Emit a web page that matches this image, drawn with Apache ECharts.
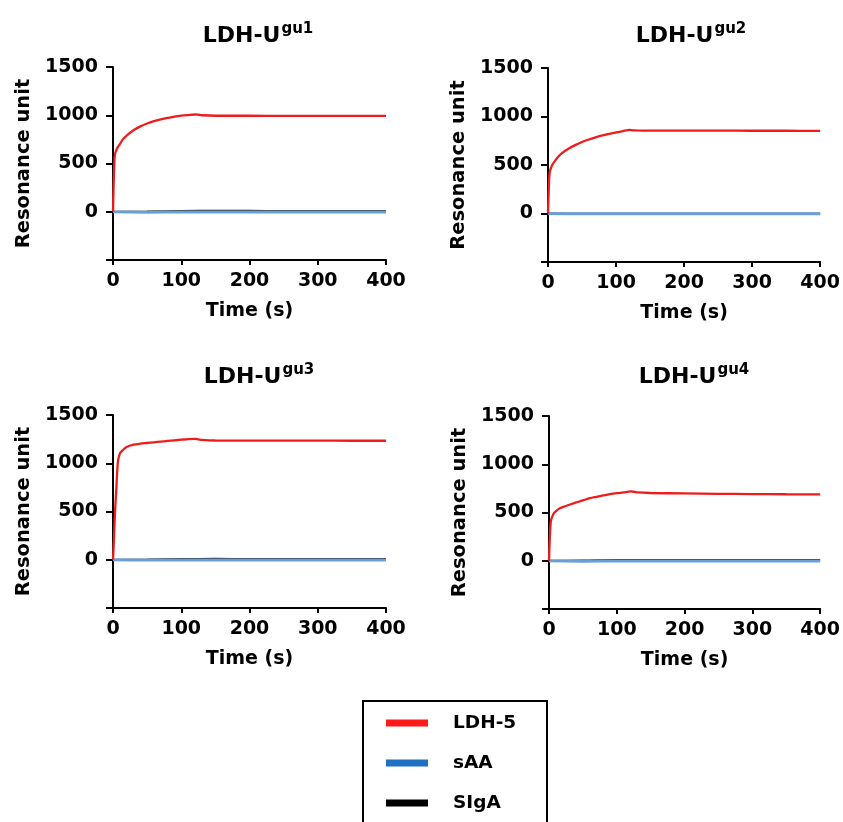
<!DOCTYPE html>
<html lang="en">
<head>
    <meta charset="UTF-8">
    <title>LDH-U binding</title>
    <script src="https://cdn.jsdelivr.net/npm/echarts@6/dist/echarts.min.js"></script>
    <style>
        html, body { margin: 0; padding: 0; background: #fff; }
        #main { width: 843px; height: 822px; }
    </style>
</head>
<body>
<div id="main"></div>
<script type="text/javascript">
    // time points (s) for the LDH-5 curves
    var tRed = [0, 1, 2, 3, 5, 7, 10, 15, 20, 30, 40, 50, 60, 70, 80, 90, 100, 110, 120, 125, 130, 150, 200, 250, 300, 350, 400];
    var red1 = [0, 300, 520, 600, 640, 670, 700, 755, 790, 845, 885, 915, 940, 958, 972, 985, 995, 1002, 1008, 1005, 1000, 995, 995, 994, 994, 993, 993];
    var red2 = [0, 220, 390, 440, 480, 510, 540, 585, 620, 668, 705, 737, 763, 785, 805, 822, 836, 849, 862, 858, 856, 855, 855, 854, 853, 853, 852];
    var red3 = [0, 150, 330, 500, 750, 1000, 1100, 1140, 1168, 1192, 1203, 1210, 1217, 1224, 1231, 1238, 1244, 1250, 1253, 1248, 1242, 1236, 1235, 1234, 1234, 1233, 1233];
    var red4 = [0, 200, 350, 420, 460, 490, 512, 540, 555, 580, 605, 625, 648, 663, 677, 690, 700, 708, 718, 715, 708, 702, 698, 694, 691, 689, 688];

    // time points (s) for the sAA / SIgA baselines
    var tBase = [0, 50, 100, 150, 200, 250, 300, 350, 400];
    var blue1 = [0, -4, -3, -2, -2, -3, -3, -2, -2];
    var blue2 = [0, -3, -3, -2, -2, -2, -3, -3, -3];
    var blue3 = [0, -3, -2, -2, -3, -3, -2, -2, -3];
    var blue4 = [0, -4, -3, -3, -2, -2, -3, -3, -3];
    var black1 = [0, 4, 10, 12, 12, 11, 11, 10, 10];
    var black2 = [0, -1, 0, 1, 0, 0, 0, 0, 0];
    var black3 = [0, 5, 10, 12, 11, 11, 10, 10, 10];
    var black4 = [0, 5, 10, 11, 11, 10, 10, 10, 10];

    var panelNames = ['gu1', 'gu2', 'gu3', 'gu4'];
    var seriesNames = ['LDH-5', 'sAA', 'SIgA'];
    var yTicks = [-500, 1500, 500];   // min, max, interval
    var xTicks = [0, 400, 100];

    var reds = [red1, red2, red3, red4];
    var blues = [blue1, blue2, blue3, blue4];
    var blacks = [black1, black2, black3, black4];

    var font = 'DejaVu Sans';
    var grids = [
        {left: 113, top: 67, width: 273, height: 193},
        {left: 548, top: 68, width: 274, height: 194},
        {left: 113, top: 415, width: 273, height: 193},
        {left: 549, top: 416, width: 273, height: 193}
    ];
    var titlePos = [[258, 22], [691, 22], [259, 363], [694, 363]];

    function pairs(t, v) {
        var out = [];
        for (var i = 0; i < t.length; i++) {
            out.push([t[i], v[i]]);
        }
        return out;
    }

    var myChart = echarts.init(document.getElementById('main'));

    var titles = [], xAxes = [], yAxes = [], series = [];
    for (var k = 0; k < 4; k++) {
        titles.push({
            text: '{a|LDH-U}{b|' + panelNames[k] + '}',
            left: titlePos[k][0],
            top: titlePos[k][1],
            textAlign: 'center',
            padding: 0,
            textStyle: {
                rich: {
                    a: {fontFamily: font, fontWeight: 'bold', fontSize: 22, color: '#000', lineHeight: 28},
                    b: {fontFamily: font, fontWeight: 'bold', fontSize: 15, color: '#000', verticalAlign: 'top', lineHeight: 26, padding: [0, 0, 0, 1]}
                }
            }
        });
        xAxes.push({
            gridIndex: k,
            type: 'value',
            min: xTicks[0],
            max: xTicks[1],
            interval: xTicks[2],
            name: 'Time (s)',
            nameLocation: 'middle',
            nameGap: 42,
            nameTextStyle: {fontFamily: font, fontWeight: 'bold', fontSize: 19, color: '#000'},
            axisLine: {onZero: false, lineStyle: {color: '#000', width: 2}},
            axisTick: {show: true, length: 5, lineStyle: {color: '#000', width: 2}},
            axisLabel: {margin: 12, fontFamily: font, fontWeight: 'bold', fontSize: 19, color: '#000'},
            splitLine: {show: false}
        });
        yAxes.push({
            gridIndex: k,
            type: 'value',
            min: yTicks[0],
            max: yTicks[1],
            interval: yTicks[2],
            name: 'Resonance unit',
            nameLocation: 'middle',
            nameGap: 79,
            nameTextStyle: {fontFamily: font, fontWeight: 'bold', fontSize: 19.5, color: '#000'},
            axisLine: {show: true, onZero: false, lineStyle: {color: '#000', width: 2}},
            axisTick: {show: true, length: 7, lineStyle: {color: '#000', width: 2}},
            axisLabel: {
                margin: 15, fontFamily: font, fontWeight: 'bold', fontSize: 19, color: '#000',
                formatter: function (v) { return v < 0 ? '' : v; }
            },
            splitLine: {show: false}
        });
        series.push({
            name: 'SIgA', type: 'line', xAxisIndex: k, yAxisIndex: k,
            data: pairs(tBase, blacks[k]), showSymbol: false, smooth: true,
            color: '#111', lineStyle: {width: 1.5, color: '#1a1a1a'}, z: 2
        });
        series.push({
            name: 'sAA', type: 'line', xAxisIndex: k, yAxisIndex: k,
            data: pairs(tBase, blues[k]), showSymbol: false, smooth: true,
            color: '#6a9fd6', lineStyle: {width: 3, color: '#6a9fd6'}, z: 3
        });
        series.push({
            name: 'LDH-5', type: 'line', xAxisIndex: k, yAxisIndex: k,
            data: pairs(tRed, reds[k]), showSymbol: false, smooth: 0.3,
            color: '#ee1c1c', lineStyle: {width: 2.3, color: '#ee1c1c'}, z: 4
        });
    }

    myChart.setOption({
        animation: false,
        title: titles,
        grid: grids,
        xAxis: xAxes,
        yAxis: yAxes,
        // legend frame runs off the bottom edge, as in the figure
        graphic: [{
            type: 'rect',
            shape: {x: 363, y: 701, width: 184, height: 160},
            style: {fill: 'none', stroke: '#000', lineWidth: 2}
        }],
        legend: {
            orient: 'vertical',
            left: 386,
            top: 713,
            padding: 0,
            itemGap: 20,
            itemWidth: 42,
            itemHeight: 7,
            icon: 'rect',
            selectedMode: false,
            textStyle: {fontFamily: font, fontWeight: 'bold', fontSize: 18.5, color: '#000', lineHeight: 20, padding: [0, 0, 0, 20]},
            data: [
                {name: seriesNames[0], itemStyle: {color: '#ff1a1a'}},
                {name: seriesNames[1], itemStyle: {color: '#1f70c1'}},
                {name: seriesNames[2], itemStyle: {color: '#000'}}
            ]
        },
        series: series
    });

    window.addEventListener("resize", function () {
        myChart.resize();
    });
</script>
</body>
</html>
